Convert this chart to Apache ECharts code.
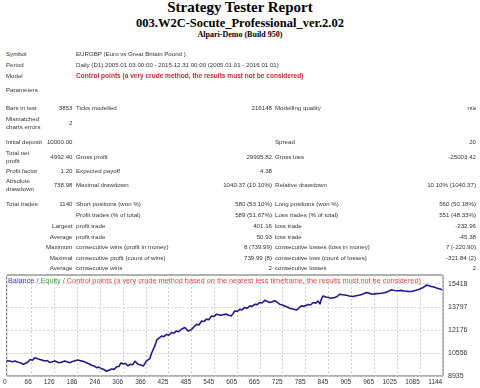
<!DOCTYPE html>
<html><head><meta charset="utf-8">
<script src="https://cdn.jsdelivr.net/npm/echarts@6/dist/echarts.min.js"></script>
<style>
html,body{margin:0;padding:0;width:480px;height:388px;overflow:hidden;background:#fff;}
.t{position:absolute;white-space:nowrap;font-family:"Liberation Sans",Arial,sans-serif;font-size:6.15px;line-height:7px;color:#333;}
.h{position:absolute;left:0;width:480px;text-align:center;font-family:"Liberation Serif","Times New Roman",serif;font-weight:bold;color:#000;line-height:1;white-space:nowrap;}
#chart{position:absolute;left:0;top:270px;width:480px;height:118px;}
</style></head><body>
<div class="h" style="top:0px;font-size:15px">Strategy Tester Report</div>
<div class="h" style="top:17px;font-size:12.5px">003.W2C-Socute_Professional_ver.2.02</div>
<div class="h" style="top:31px;font-size:8px;color:#000">Alpari-Demo (Build 950)</div>
<div id="chart"></div>
<script>
// ---- report table texts ----
const headRows = [
  [54, "Symbol", "EURGBP (Euro vs Great Britain Pound )", false],
  [64.5, "Period", "Daily (D1) 2005.01.03 00:00 - 2015.12.31 00:00 (2005.01.01 - 2016.01.01)", false],
  [76, "Model", "Control points (a very crude method, the results must not be considered)", true],
  [90, "Parameters", "", false]
];
const statRows = [
  {y:108, a:["Bars in test"], v1:"3853", b:"Ticks modelled", v2:"216148", c:"Modelling quality", v3:"n/a"},
  {y:123, a:["Mismatched","charts errors"], v1:"2"},
  {y:142, a:["Initial deposit"], v1:"10000.00", c:"Spread", v3:"20"},
  {y:156.5, a:["Total net","profit"], v1:"4992.40", b:"Gross profit", v2:"29995.82", c:"Gross loss", v3:"-25003.42"},
  {y:171, a:["Profit factor"], v1:"1.20", b:"Expected payoff", v2:"4.38"},
  {y:185, a:["Absolute","drawdown"], v1:"738.98", b:"Maximal drawdown", v2:"1040.37 (10.10%)", c:"Relative drawdown", v3:"10.10% (1040.37)"},
  {y:204, a:["Total trades"], v1:"1140", b:"Short positions (won %)", v2:"580 (53.10%)", c:"Long positions (won %)", v3:"560 (50.18%)"},
  {y:215, b:"Profit trades (% of total)", v2:"589 (51.67%)", c:"Loss trades (% of total)", v3:"551 (48.33%)"},
  {y:226, ar:"Largest", b:"profit trade", v2:"401.16", c:"loss trade", v3:"-232.96"},
  {y:236.5, ar:"Average", b:"profit trade", v2:"50.93", c:"loss trade", v3:"-45.38"},
  {y:247, ar:"Maximum", b:"consecutive wins (profit in money)", v2:"8 (739.99)", c:"consecutive losses (loss in money)", v3:"7 (-220.90)"},
  {y:257.5, ar:"Maximal", b:"consecutive profit (count of wins)", v2:"739.99 (8)", c:"consecutive loss (count of losses)", v3:"-321.84 (2)"},
  {y:268, ar:"Average", b:"consecutive wins", v2:"2", c:"consecutive losses", v3:"2"}
];
function put(x, y, s, right, css) {
  const d = document.createElement('div');
  d.className = 't';
  if (right) { d.style.right = (480 - x) + 'px'; d.style.textAlign = 'right'; }
  else d.style.left = x + 'px';
  d.style.top = (y - 3.8) + 'px';
  d.textContent = s;
  if (css) d.style.cssText += css;
  document.body.appendChild(d);
}
headRows.forEach(r => {
  put(6, r[0], r[1]);
  if (r[2]) put(76, r[0], r[2], false, r[3] ? 'color:#c0302f;font-weight:bold;font-size:6.55px;' : '');
});
statRows.forEach(r => {
  if (r.a) {
    if (r.a.length === 1) put(6, r.y, r.a[0]);
    else { put(6, r.y - 4, r.a[0]); put(6, r.y + 4, r.a[1]); }
  }
  if (r.ar) put(72.5, r.y, r.ar, true);
  if (r.v1) put(72.5, r.y, r.v1, true);
  if (r.b) put(76, r.y, r.b);
  if (r.v2) put(272, r.y, r.v2, true);
  if (r.c) put(275, r.y, r.c);
  if (r.v3) put(476, r.y, r.v3, true);
});

// ---- chart data ----
const xTicks = [0,66,126,186,246,306,366,425,485,545,605,665,725,785,845,905,965,1025,1085,1144];
const yTicks = [8935,10556,12176,13797,15418];
const trades = [0,8,16,22,30,36,44,50,56,62,68,74,80,87,94,100,107,114,120,127,134,140,147,153,160,166,173,180,186,192,198,204,210,216,223,230,236,242,249,255,262,268,276,282,289,295,300,306,312,319,325,331,337,341,345,352,359,363,367,372,376,380,385,390,394,400,407,413,420,426,433,440,446,452,459,464,468,473,477,482,486,492,499,505,512,518,525,531,538,545,551,557,564,570,577,583,590,594,599,606,612,618,625,632,639,645,652,658,665,671,678,684,691,697,704,710,717,724,730,737,743,748,754,761,767,774,780,786,792,798,805,812,818,823,826,831,838,845,852,862,868,875,882,892,900,910,918,928,936,945,953,962,970,980,988,997,1004,1010,1018,1028,1036,1045,1054,1063,1071,1080,1087,1094,1098,1102,1108,1115,1122,1129,1134,1138,1144];
const balance = [10000,9990,9940,9985,9900,9860,9750,9830,9920,10090,10040,10220,10160,10100,10050,9990,10020,9880,9930,9990,9900,9870,9940,9990,9920,9870,9950,10010,10060,10020,9980,9930,9870,9800,9690,9640,9520,9560,9450,9400,9270,9340,9430,9400,9580,9600,9860,9780,9820,9640,9760,9720,9980,9900,9760,9700,9630,9800,9980,10050,10150,10500,10800,11100,11450,11600,11740,11700,11860,11800,11990,11950,12100,12050,12220,12180,12340,12250,12090,12150,12210,12400,12560,12520,12800,12760,12930,12880,13150,13120,13280,13230,13200,13260,13280,13210,13150,13300,13500,13480,13620,13580,13740,13700,13860,13820,13980,13950,14100,14060,14250,14180,14100,14150,14220,14120,13980,13920,13860,13780,13700,13670,13620,13570,13700,13860,13840,13880,13960,13920,14100,14050,14210,13980,14300,14560,14480,14450,14400,14450,14520,14680,14640,14610,14560,14520,14570,14620,14700,14800,14740,14680,14720,14730,14760,14810,14900,14990,14940,14920,14950,14910,14880,14870,14930,14990,15060,15150,15240,15320,15290,15230,15180,15110,15080,15040,14992];
const legendText = "{b|Balance}{s| / }{e|Equity}{r| / Control points (a very crude method based on the nearest less timeframe, the results must not be considered)}";

const chart = echarts.init(document.getElementById('chart'), null, {renderer:'canvas'});
const ff = '"Liberation Sans", Arial, sans-serif';
const lf = 7.3;
chart.setOption({
  animation: false,
  title: {
    text: legendText, left: 8, top: 7, padding: 0,
    textStyle: { fontFamily: ff, fontSize: lf, fontWeight: 'normal',
      rich: {
        b: {color:'#3a3aa8', fontSize:lf, fontFamily:ff},
        s: {color:'#555', fontSize:lf, fontFamily:ff},
        e: {color:'#3aa83a', fontSize:lf, fontFamily:ff},
        r: {color:'#e04848', fontSize:lf, fontFamily:ff}
      }
    }
  },
  grid: {left:5, right:37, top:5, bottom:12, show:true, borderColor:'#606060', borderWidth:1, backgroundColor:'#fff'},
  xAxis: {
    type:'value', min:0, max:1146,
    axisLine:{show:false},
    axisTick:{show:false, customValues:xTicks},
    axisLabel:{customValues:xTicks, fontSize:6.5, color:'#333', margin:3, align:'right', fontFamily:ff,
      formatter: v => String(Math.round(v))},
    splitLine:{show:true, lineStyle:{color:'#cfcfcf', type:[2,2], width:1}}
  },
  yAxis: {
    type:'value', position:'right', min:8935, max:16030,
    axisLine:{show:false},
    axisTick:{show:false, customValues:yTicks},
    axisLabel:{customValues:yTicks, fontSize:7, color:'#333', margin:5, align:'left', fontFamily:ff,
      formatter: v => String(Math.round(v))},
    splitLine:{show:true, lineStyle:{color:'#cfcfcf', type:[2,2], width:1}}
  },
  series: [{
    type:'line', data: trades.map((t,i)=>[t, balance[i]]),
    showSymbol:false, silent:true,
    lineStyle:{color:'#1c1c8c', width:1.6}
  }]
});
</script>
</body></html>
